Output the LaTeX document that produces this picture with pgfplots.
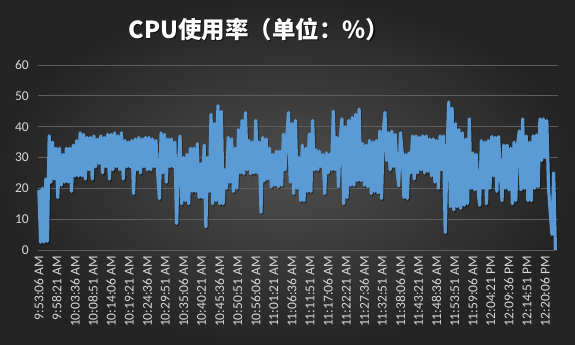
\documentclass[border=0pt]{standalone}
\usepackage{pgfplots}
\pgfplotsset{compat=1.18}
\usepackage{pgfplotstable}
\usepackage{fontspec}
\setmainfont{Carlito}
\newfontfamily\cjk{Noto Sans CJK SC}
\definecolor{bgin}{HTML}{4E4E4E}
\definecolor{bgout}{HTML}{242424}
\definecolor{lineblue}{HTML}{5B9BD5}
\definecolor{gridc}{HTML}{5E5E5E}
\definecolor{labc}{HTML}{D9D9D9}

\pgfplotstableread[row sep=\\]{
y\\
19.5\\ 2.5\\ 20\\ 2.5\\ 23\\ 2.8\\
37\\ 22\\ 35\\ 23\\ 33\\ 17\\
33\\ 21\\ 31\\ 22\\ 33\\ 22\\
33\\ 19\\ 34\\ 24\\ 35.5\\ 24\\
38\\ 24\\ 37.5\\ 23\\ 36.5\\
26\\ 36.5\\ 23\\ 37\\ 27\\ 36\\
28\\ 37\\ 25\\ 36.5\\ 27\\ 37.5\\
23\\ 37.5\\ 26\\ 38\\ 27\\ 37\\
26\\ 38\\ 23\\ 35.5\\ 27\\ 35\\
27\\ 35.5\\ 18.3\\ 36\\ 26\\
36.5\\ 25\\ 36\\ 27\\ 36.5\\ 26\\
36.5\\ 26\\ 36\\ 27\\ 35.5\\ 25\\
16.7\\ 38\\ 25\\ 37.5\\ 22\\ 36\\
27\\ 36\\ 27\\ 35\\ 8.6\\ 27\\
37\\ 15\\ 30\\ 16\\ 31\\
15\\ 33\\ 19\\ 33\\ 19\\ 34.5\\
17\\ 28\\ 17\\ 34\\ 7.5\\ 30\\
19\\ 44\\ 15\\ 41\\ 16\\ 46.8\\
15\\ 45\\ 15\\ 26\\ 20\\ 36.5\\
22\\ 36\\ 19\\ 33\\ 20\\
39\\ 25\\ 42\\ 24.7\\ 44.5\\ 26\\
35.5\\ 24.7\\ 35\\ 25\\ 42\\ 25\\
35\\ 12.2\\ 36.5\\ 22.5\\ 36\\ 23\\
33\\ 20.5\\ 31\\ 21\\ 32\\ 20.5\\
32\\ 21\\ 37.6\\ 26\\ 37\\
44.6\\ 22\\ 41\\ 18.3\\ 42\\ 20\\
30\\ 16\\ 34\\ 16\\ 33\\ 19\\
37.6\\ 19\\ 42\\ 26\\ 32.5\\ 26\\
32\\ 27\\ 31\\ 18.3\\ 31.5\\ 25\\
31\\ 26\\ 45\\ 26\\ 36.5\\
20.5\\ 36\\ 42.5\\ 15\\ 40\\ 17\\
42\\ 21\\ 43\\ 21\\ 44\\ 22.5\\
45.7\\ 22.5\\ 34.5\\ 21\\ 34\\ 20.5\\
35.5\\ 18.3\\ 35\\ 19\\ 35.5\\ 18.5\\
38.6\\ 16.7\\ 38\\ 44.6\\ 29\\
38\\ 26\\ 38.5\\ 27\\ 37.5\\ 26\\
20.8\\ 38\\ 31.7\\ 17\\ 31\\ 16.7\\
31.5\\ 25\\ 37\\ 23\\ 37\\ 25\\
36.5\\ 26\\ 37\\ 25\\ 37\\ 25.5\\
36\\ 24\\ 36\\ 22\\ 35.5\\
20\\ 37\\ 26\\ 37\\ 5.7\\ 30\\
48\\ 14\\ 46\\ 13\\ 41\\ 14\\
39\\ 13.5\\ 38\\ 14.5\\ 36\\ 15\\
42.5\\ 20\\ 31.5\\ 19.5\\ 31\\ 20\\
14.5\\ 35.5\\ 20\\ 35\\ 15\\
35.5\\ 20\\ 36.8\\ 24\\ 36.5\\ 19\\
36.8\\ 25\\ 16\\ 34\\ 20\\ 34\\
19.5\\ 33\\ 15\\ 35\\ 16\\ 34\\
38.6\\ 19.5\\ 42.5\\ 20\\ 37\\ 16\\
35\\ 16\\ 37\\ 20\\ 37.3\\
20.5\\ 42.5\\ 29\\ 42.5\\ 30\\ 42\\
20\\ 12\\ 5\\ 25\\ 0\\
}\cpu

\begin{document}
\begin{tikzpicture}
\useasboundingbox (0,0) rectangle (575pt,345pt);
\shade[inner color=bgin, outer color=bgout] (0,0) rectangle (575pt,345pt);
\node[text=black, opacity=0.6, font=\cjk\bfseries\fontsize{23.5}{27}\selectfont] at (260.2pt,315pt) {CPU使用率（单位：\%）};
\node[text=white, font=\cjk\bfseries\fontsize{23.5}{27}\selectfont] at (259pt,316pt) {CPU使用率（单位：\%）};
\begin{axis}[
  at={(38pt,95pt)}, anchor=south west,
  width=520pt, height=185pt, scale only axis,
  xmin=-1, xmax=603, ymin=0, ymax=60,
  ytick={0,10,...,60},
  xtick={0,21,...,588},
  xticklabels={9:53:06 AM,9:58:21 AM,10:03:36 AM,10:08:51 AM,10:14:06 AM,10:19:21 AM,10:24:36 AM,10:29:51 AM,10:35:06 AM,10:40:21 AM,10:45:36 AM,10:50:51 AM,10:56:06 AM,11:01:21 AM,11:06:36 AM,11:11:51 AM,11:17:06 AM,11:22:21 AM,11:27:36 AM,11:32:51 AM,11:38:06 AM,11:43:21 AM,11:48:36 AM,11:53:51 AM,11:59:06 AM,12:04:21 PM,12:09:36 PM,12:14:51 PM,12:20:06 PM},
  ymajorgrids,
  major grid style={draw=gridc, line width=0.8pt},
  axis line style={draw=none},
  tick style={draw=none},
  /pgf/number format/assume math mode=true,
  yticklabel style={text=labc, font=\fontsize{13.5}{15}\selectfont, inner sep=0pt, anchor=east, xshift=-9pt},
  xticklabel style={text=labc, font=\fontsize{13.5}{15}\selectfont, inner sep=0pt, rotate=90, anchor=east},
  xticklabel shift=6pt,
  clip=false,
]
\addplot[black, opacity=0.35, line width=3.2pt, line join=round, shift={(1pt,-1.5pt)}] table[x expr=\coordindex*2, y=y]{\cpu};
\addplot[lineblue, line width=3.2pt, line join=round] table[x expr=\coordindex*2, y=y]{\cpu};
\end{axis}
\end{tikzpicture}
\end{document}
